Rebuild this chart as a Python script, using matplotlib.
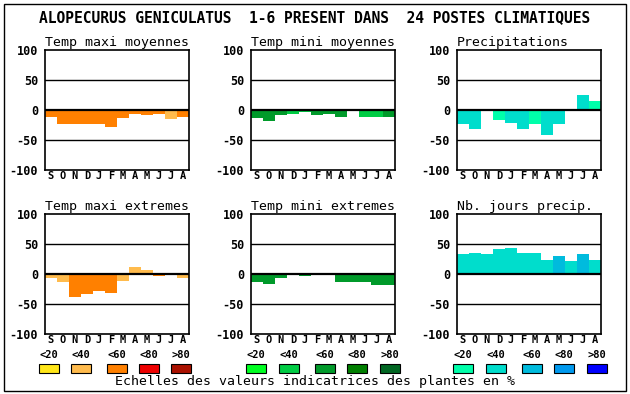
import numpy as np
import matplotlib
matplotlib.use('Agg')
import matplotlib.pyplot as plt
from matplotlib.patches import Rectangle

months = ['S', 'O', 'N', 'D', 'J', 'F', 'M', 'A', 'M', 'J', 'J', 'A']
legend_labels = ['<20', '<40', '<60', '<80', '>80']

orange_scale = ['#ffe619', '#ffbb4d', '#ff8000', '#ee0000', '#aa1100']
green_scale = ['#00ff22', '#00cc44', '#009a2a', '#007f00', '#006622']
blue_scale = ['#00ffaa', '#00ddcc', '#00bbdd', '#0099ee', '#0000ff']

# values in %, class = index in the colour scale (-1 = no colour)
tmax_moy = [-11, -23, -23, -24, -24, -28, -13, -6, -8, -6, -15, -11]
tmax_moy_cls = [2, 2, 2, 2, 2, 2, 2, 2, 2, 2, 1, 2]

tmin_moy = [-14, -18, -8, -6, -4, -8, -6, -11, 0, -11, -11, -11]
tmin_moy_cls = [2, 2, 2, 1, 1, 2, 2, 2, -1, 1, 1, 2]

precip = [-24, -31, 0, -16, -21, -31, -24, -41, -23, 2, 25, 15]
precip_cls = [1, 1, -1, 0, 1, 1, 0, 1, 1, 1, 1, 0]

tmax_ext = [-6, -13, -38, -33, -28, -31, -11, 12, 7, -4, 0, -6]
tmax_ext_cls = [1, 1, 2, 2, 2, 2, 1, 1, 1, 2, -1, 1]

tmin_ext = [-13, -16, -6, 2, -4, 2, 2, -13, -14, -13, -18, -18]
tmin_ext_cls = [2, 2, 2, 2, 2, 2, 2, 2, 2, 2, 2, 2]

nb_jours = [33, 35, 33, 42, 43, 35, 35, 23, 30, 22, 33, 23]
nb_jours_cls = [1, 1, 1, 1, 1, 1, 1, 1, 2, 1, 2, 1]

panels = [
    ('Temp maxi moyennes', tmax_moy, tmax_moy_cls, orange_scale),
    ('Temp mini moyennes', tmin_moy, tmin_moy_cls, green_scale),
    ('Precipitations', precip, precip_cls, blue_scale),
    ('Temp maxi extremes', tmax_ext, tmax_ext_cls, orange_scale),
    ('Temp mini extremes', tmin_ext, tmin_ext_cls, green_scale),
    ('Nb. jours precip.', nb_jours, nb_jours_cls, blue_scale),
]

W, H = 630, 394
fig = plt.figure(figsize=(W / 100, H / 100), dpi=100)
mono = 'DejaVu Sans Mono'

def fx(px):
    return px / W

def fy(py):
    return 1 - py / H

# outer frame
fig.patches.append(Rectangle((fx(4), fy(391)), fx(622), 387 / H, transform=fig.transFigure,
                             fill=False, edgecolor='black', linewidth=1))

fig.text(0.5, fy(18), 'ALOPECURUS GENICULATUS  1-6 PRESENT DANS  24 POSTES CLIMATIQUES',
         ha='center', va='center', family=mono, fontsize=10.5, fontweight='bold')

lefts = [45, 251, 457]
tops = [50, 214]
for i, (title, vals, cls, scale) in enumerate(panels):
    left = lefts[i % 3]
    top = tops[i // 3]
    ax = fig.add_axes([fx(left), fy(top + 120), fx(144), 120 / H])
    x = np.arange(len(vals))
    cols = [scale[c] if c >= 0 else 'white' for c in cls]
    ax.bar(x, vals, width=1.0, color=cols, linewidth=0, zorder=2)
    for yv in (-50, 50):
        ax.axhline(yv, color='black', linewidth=1, zorder=1)
    ax.axhline(0, color='black', linewidth=1.6, zorder=3)
    ax.set_xlim(-0.5, 11.5)
    ax.set_ylim(-100, 100)
    ax.set_yticks([-100, -50, 0, 50, 100])
    ax.set_yticklabels(['-100', '-50', '0', '50', '100'], family=mono, fontweight='bold', fontsize=8.5)
    ax.set_xticks(x)
    ax.set_xticklabels(months, family=mono, fontweight='bold', fontsize=7.5)
    ax.tick_params(axis='x', length=0, pad=1)
    ax.tick_params(axis='y', length=0, pad=5)
    for s in ax.spines.values():
        s.set_linewidth(1.2)
    ax.set_title(title, family=mono, fontsize=9.5, pad=3, loc='left')

# colour scales
legend_x = [[39, 71, 107, 139, 171], [246, 279, 315, 347, 380], [453, 486, 522, 554, 587]]
for xs, scale in zip(legend_x, [orange_scale, green_scale, blue_scale]):
    for xp, lab, col in zip(xs, legend_labels, scale):
        fig.patches.append(Rectangle((fx(xp), fy(373)), fx(20), 9 / H, transform=fig.transFigure,
                                     facecolor=col, edgecolor='black', linewidth=0.8))
        fig.text(fx(xp + 10), fy(355.5), lab, ha='center', va='center', family=mono,
                 fontweight='bold', fontsize=7.5)

fig.text(0.5, fy(382), 'Echelles des valeurs indicatrices des plantes en %',
         ha='center', va='center', family=mono, fontsize=9.5)

fig.savefig('out.png', dpi=100)
